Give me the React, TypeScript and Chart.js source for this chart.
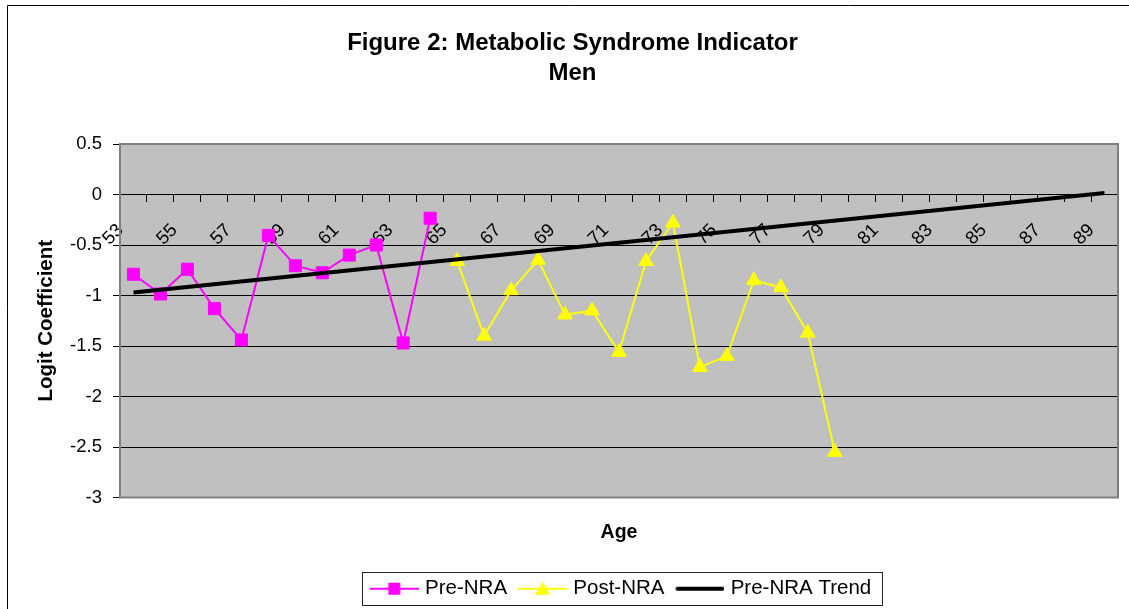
import React, { useEffect, useRef } from "react";
import { Chart, registerables } from "chart.js";

Chart.register(...registerables);

// ---------- data ----------
const ages = [
  53, 54, 55, 56, 57, 58, 59, 60, 61, 62, 63, 64, 65, 66, 67, 68, 69, 70, 71,
  72, 73, 74, 75, 76, 77, 78, 79, 80, 81, 82, 83, 84, 85, 86, 87, 88, 89,
];
const labeledAges = [53, 55, 57, 59, 61, 63, 65, 67, 69, 71, 73, 75, 77, 79, 81, 83, 85, 87, 89];

const preNraStartAge = 53;
const preNraValues = [-0.79, -0.985, -0.74, -1.13, -1.44, -0.405, -0.705, -0.775, -0.6, -0.5, -1.47, -0.235];

const postNraStartAge = 65;
const postNraValues = [-0.66, -1.4, -0.95, -0.65, -1.19, -1.15, -1.56, -0.66, -0.28, -1.71, -1.6, -0.85, -0.92, -1.37, -2.55];

const trendAges = [53, 89];
const trendValues = [-0.97, 0.015];

const yMin = -3;
const yMax = 0.5;
const yStep = 0.5;

const titleLines = ["Figure 2: Metabolic Syndrome Indicator", "Men"];
const seriesNames = ["Pre-NRA", "Post-NRA", "Pre-NRA Trend"];

// ---------- styles ----------
const FONT = "'Liberation Sans', Arial, Helvetica, sans-serif";
const PINK = "#FF00FF";
const YELLOW = "#FFFF00";
const BLACK = "#000000";

function seriesFrom(start: number, values: number[]) {
  return ages.map((a) => {
    const i = a - start;
    return i >= 0 && i < values.length ? values[i] : null;
  });
}

function trendSeries() {
  return ages.map((a) => {
    const i = trendAges.indexOf(a);
    return i >= 0 ? trendValues[i] : null;
  });
}

function makeLegendImage(kind: string) {
  const c = document.createElement("canvas");
  c.width = 56;
  c.height = 20;
  const ctx = c.getContext("2d")!;
  const cy = 10;
  const mid = 31.5;
  if (kind === "pre") {
    ctx.strokeStyle = PINK;
    ctx.lineWidth = 2;
    ctx.beginPath();
    ctx.moveTo(7, cy);
    ctx.lineTo(56, cy);
    ctx.stroke();
    ctx.fillStyle = PINK;
    ctx.fillRect(mid - 6, cy - 6, 12, 12);
  } else if (kind === "post") {
    ctx.strokeStyle = YELLOW;
    ctx.lineWidth = 2;
    ctx.beginPath();
    ctx.moveTo(7, cy);
    ctx.lineTo(56, cy);
    ctx.stroke();
    ctx.fillStyle = YELLOW;
    ctx.beginPath();
    ctx.moveTo(mid, cy - 7);
    ctx.lineTo(mid + 7.5, cy + 6);
    ctx.lineTo(mid - 7.5, cy + 6);
    ctx.closePath();
    ctx.fill();
  } else {
    ctx.strokeStyle = BLACK;
    ctx.lineWidth = 4;
    ctx.lineCap = "round";
    ctx.beginPath();
    ctx.moveTo(9, cy);
    ctx.lineTo(54, cy);
    ctx.stroke();
  }
  return c;
}

const decorPlugin = {
  id: "decor",
  beforeDraw(chart: any) {
    const { ctx, chartArea: a, width, height } = chart;
    ctx.save();
    ctx.fillStyle = "#FFFFFF";
    ctx.fillRect(0, 0, width, height);
    ctx.fillStyle = "#C0C0C0";
    ctx.fillRect(a.left, a.top, a.right - a.left, a.bottom - a.top);
    // outer chart frame
    ctx.strokeStyle = "#000000";
    ctx.lineWidth = 1;
    ctx.beginPath();
    ctx.moveTo(7.5, height);
    ctx.lineTo(7.5, 5.5);
    ctx.lineTo(width, 5.5);
    ctx.stroke();
    ctx.restore();
  },
  beforeDatasetsDraw(chart: any) {
    const { ctx, chartArea: a } = chart;
    ctx.save();
    ctx.strokeStyle = "#808080";
    ctx.lineWidth = 2;
    ctx.strokeRect(a.left, a.top, a.right - a.left, a.bottom - a.top);
    ctx.restore();
  },
  afterDraw(chart: any) {
    const lg = chart.legend;
    if (!lg || !lg.legendHitBoxes || !lg.legendHitBoxes.length) return;
    const hb = lg.legendHitBoxes;
    const first = hb[0];
    const last = hb[hb.length - 1];
    const cy = first.top + first.height / 2;
    const x1 = Math.round(first.left - 5) + 0.5;
    const x2 = Math.round(last.left + last.width + 11) + 0.5;
    const y1 = Math.round(cy - 16.5) + 0.5;
    const y2 = Math.round(cy + 16.5) + 0.5;
    const { ctx } = chart;
    ctx.save();
    ctx.strokeStyle = "#222222";
    ctx.lineWidth = 1;
    ctx.strokeRect(x1, y1, x2 - x1, y2 - y1);
    ctx.restore();
  },
};

export default function App() {
  const canvasRef = useRef<HTMLCanvasElement | null>(null);

  useEffect(() => {
    const canvas = canvasRef.current;
    if (!canvas) return;
    Chart.defaults.font.family = FONT;
    Chart.defaults.color = "#000000";

    const legendImages = [makeLegendImage("pre"), makeLegendImage("post"), makeLegendImage("trend")];

    const chart = new Chart(canvas, {
      type: "line",
      data: {
        labels: ages.map(String),
        datasets: [
          {
            label: seriesNames[0],
            data: seriesFrom(preNraStartAge, preNraValues),
            borderColor: PINK,
            backgroundColor: PINK,
            borderWidth: 2,
            pointStyle: "rect",
            pointRadius: 8.5,
            pointBorderWidth: 1,
            pointBackgroundColor: PINK,
            pointBorderColor: PINK,
            spanGaps: false,
            order: 1,
          },
          {
            label: seriesNames[1],
            data: seriesFrom(postNraStartAge, postNraValues),
            borderColor: YELLOW,
            backgroundColor: YELLOW,
            borderWidth: 2,
            pointStyle: "triangle",
            pointRadius: 8.5,
            pointBorderWidth: 1,
            pointBackgroundColor: YELLOW,
            pointBorderColor: YELLOW,
            spanGaps: false,
            order: 2,
          },
          {
            label: seriesNames[2],
            data: trendSeries(),
            borderColor: BLACK,
            backgroundColor: BLACK,
            borderWidth: 4,
            pointRadius: 0,
            spanGaps: true,
            order: 0,
          },
        ],
      },
      options: {
        responsive: false,
        animation: false,
        devicePixelRatio: 1,
        events: [],
        layout: { padding: { left: 27, right: 11, top: 0, bottom: 0 } },
        plugins: {
          tooltip: { enabled: false },
          title: {
            display: true,
            text: titleLines,
            color: "#000",
            font: { family: FONT, size: 24, weight: "bold", lineHeight: "30px" },
            padding: { top: 28, bottom: 56 },
          },
          legend: {
            display: true,
            position: "bottom",
            fullSize: false,
            labels: {
              usePointStyle: true,
              pointStyleWidth: 48,
              padding: 8,
              color: "#000",
              font: { family: FONT, size: 20.5 },
              generateLabels: () =>
                seriesNames.map((name, i) => ({
                  text: name,
                  pointStyle: legendImages[i],
                  datasetIndex: i,
                  hidden: false,
                  lineWidth: 0,
                  fillStyle: "transparent",
                  strokeStyle: "transparent",
                  fontColor: "#000",
                })),
            },
          },
        },
        scales: {
          x: {
            type: "category",
            position: { y: 0 },
            offset: true,
            grid: {
              display: true,
              drawOnChartArea: false,
              drawTicks: true,
              tickLength: 7,
              color: "#000",
              offset: true,
            },
            border: { display: true, color: "#000", width: 1 },
            ticks: {
              autoSkip: false,
              minRotation: 45,
              maxRotation: 45,
              padding: 18,
              labelOffset: -13,
              color: "#000",
              font: { family: FONT, size: 18.5 },
              callback: (_v: any, index: number) =>
                labeledAges.includes(ages[index]) ? String(ages[index]) : "",
            },
            afterFit: (s: any) => {
              s.height = 0;
              s.paddingLeft = 0;
              s.paddingRight = 0;
            },
          },
          xAge: {
            type: "category",
            position: "bottom",
            offset: true,
            ticks: { display: false },
            grid: { display: false, drawTicks: false },
            border: { display: false },
            title: {
              display: true,
              text: "Age",
              color: "#000",
              font: { family: FONT, size: 19.5, weight: "bold" },
              padding: { top: 23.3, bottom: 26.3 },
            },
            afterFit: (s: any) => {
              s.paddingLeft = 0;
              s.paddingRight = 0;
            },
          },
          y: {
            type: "linear",
            position: "left",
            min: yMin,
            max: yMax,
            ticks: {
              stepSize: yStep,
              padding: 11,
              color: "#000",
              font: { family: FONT, size: 18.5 },
              callback: (v: any) => String(Math.round(Number(v) * 10) / 10),
            },
            grid: { color: "#000", lineWidth: 1, tickLength: 7, drawTicks: true },
            border: { display: false },
            title: {
              display: true,
              text: "Logit Coefficient",
              color: "#000",
              font: { family: FONT, size: 20.5, weight: "bold" },
              padding: { top: 6.7, bottom: 0 },
            },
            afterFit: (s: any) => {
              s.width = 93;
            },
          },
        },
      } as any,
      plugins: [decorPlugin as any],
    });

    return () => {
      chart.destroy();
    };
  }, []);

  return (
    <div style={{ position: "fixed", left: 0, top: 0, width: 1129, height: 609, overflow: "hidden", background: "#fff" }}>
      <canvas ref={canvasRef} width={1129} height={609} style={{ display: "block", width: 1129, height: 609 }} />
    </div>
  );
}
